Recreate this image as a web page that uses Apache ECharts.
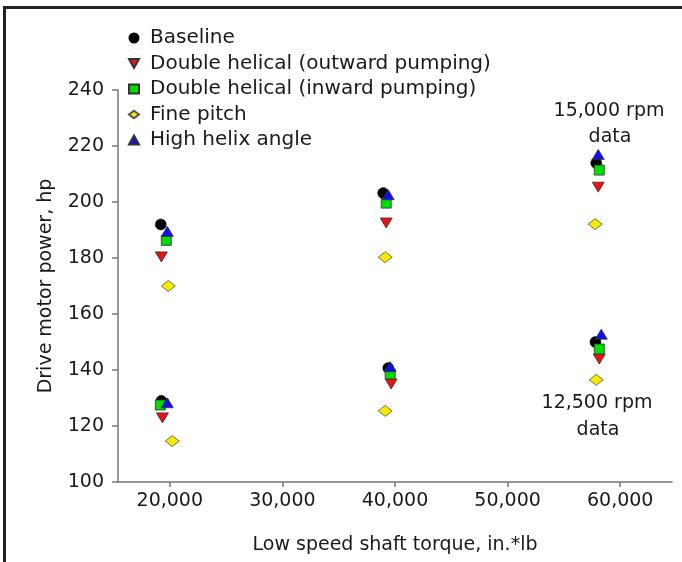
<!DOCTYPE html>
<html>
<head>
<meta charset="utf-8">
<script src="https://cdn.jsdelivr.net/npm/echarts@6/dist/echarts.min.js"></script>
<style>
html,body{margin:0;padding:0;background:#fff;}
#c{width:682px;height:562px;}
</style>
</head>
<body>
<div id="c"></div>
<script>
// ---- data (x = low speed shaft torque, y = drive motor power) ----
var seriesNames = ['Baseline', 'Double helical (outward pumping)', 'Double helical (inward pumping)', 'Fine pitch', 'High helix angle'];
var baseline = [[19200, 192.0], [38950, 203.2], [57870, 213.9], [19250, 129.0], [39400, 140.7], [57800, 150.0]];
var outward  = [[19250, 180.4], [39220, 192.5], [58050, 205.3], [19350, 122.9], [39660, 135.0], [58140, 143.9]];
var inward   = [[19690, 186.3], [39220, 199.6], [58140, 211.4], [19160, 127.5], [39570, 138.6], [58140, 147.5]];
var finePitch= [[19870, 170.0], [39130, 180.3], [57780, 192.1], [20220, 114.6], [39130, 125.4], [57870, 136.5]];
var highHelix= [[19780, 189.5], [39400, 202.6], [58050, 217.0], [19780, 128.3], [39570, 141.2], [58320, 152.8]];
var xTicks = [20000, 30000, 40000, 50000, 60000];
var yTicks = [100, 120, 140, 160, 180, 200, 220, 240];
var annotations = [['15,000 rpm', 'data'], ['12,500 rpm', 'data']];

var FONT = 'DejaVu Sans';
var TXT = '#1a1a1a';
var chart = echarts.init(document.getElementById('c'), null, {renderer: 'canvas'});

function fmt(v){ return String(v).replace(/\B(?=(\d{3})+(?!\d))/g, ','); }

var downTri = 'path://M0,0 L10,0 L5,9 Z';
var upTri = 'path://M5,0 L10,9 L0,9 Z';
var diamondIcon = 'path://M6,0 L12,4.5 L6,9 L0,4.5 Z';

var option = {
  backgroundColor: '#fff',
  animation: false,
  textStyle: {fontFamily: FONT},
  grid: {left: 118, right: 10, top: 90, bottom: 80, containLabel: false},
  legend: {
    orient: 'vertical',
    left: 123, top: 23,
    itemWidth: 10, itemHeight: 9,
    itemGap: 5.5,
    textStyle: {fontFamily: FONT, fontSize: 20, color: TXT, lineHeight: 20, padding: [0, 0, 0, 6]},
    data: [
      {name: seriesNames[0], icon: 'circle'},
      {name: seriesNames[1], icon: downTri},
      {name: seriesNames[2], icon: 'rect'},
      {name: seriesNames[3], icon: diamondIcon},
      {name: seriesNames[4], icon: upTri}
    ]
  },
  xAxis: {
    type: 'value',
    min: 15400, max: 64600,
    name: 'Low speed shaft torque, in.*lb',
    nameLocation: 'middle', nameGap: 54,
    nameTextStyle: {fontFamily: FONT, fontSize: 19, color: TXT},
    axisLine: {show: true, lineStyle: {color: '#777', width: 1.5}},
    axisTick: {show: true, length: 5, customValues: xTicks, lineStyle: {color: '#777', width: 1.5}},
    axisLabel: {customValues: xTicks, formatter: fmt, fontFamily: FONT, fontSize: 19, color: TXT, margin: 10},
    splitLine: {show: false}
  },
  yAxis: {
    type: 'value',
    min: 100, max: 240, interval: 20,
    name: 'Drive motor power, hp',
    nameLocation: 'middle', nameGap: 62,
    nameTextStyle: {fontFamily: FONT, fontSize: 19, color: TXT},
    axisLine: {show: true, onZero: false, lineStyle: {color: '#777', width: 1.5}},
    axisTick: {show: true, length: 6, lineStyle: {color: '#777', width: 1.5}},
    axisLabel: {fontFamily: FONT, fontSize: 19, color: TXT, margin: 14},
    splitLine: {show: false}
  },
  series: [
    {name: seriesNames[0], type: 'scatter', data: baseline, symbol: 'circle', symbolSize: 11,
     itemStyle: {color: '#000', borderColor: '#000', borderWidth: 0.5, opacity: 1}, z: 2},
    {name: seriesNames[1], type: 'scatter', data: outward, symbol: 'triangle', symbolRotate: 180, symbolSize: [12, 10],
     itemStyle: {color: '#ee1111', borderColor: '#333', borderWidth: 0.8, opacity: 1}, z: 3},
    {name: seriesNames[2], type: 'scatter', data: inward, symbol: 'rect', symbolSize: 10,
     itemStyle: {color: '#00dd00', borderColor: '#333', borderWidth: 0.8, opacity: 1}, z: 4},
    {name: seriesNames[3], type: 'scatter', data: finePitch, symbol: 'diamond', symbolSize: [14, 11],
     itemStyle: {color: '#f5ea00', borderColor: '#555', borderWidth: 0.8, opacity: 1}, z: 5},
    {name: seriesNames[4], type: 'scatter', data: highHelix, symbol: 'triangle', symbolSize: [12, 10],
     itemStyle: {color: '#1010ee', borderColor: '#333', borderWidth: 0.8, opacity: 1}, z: 6}
  ],
  graphic: [
    {type: 'rect', shape: {x: 4.5, y: 7.5, width: 720, height: 620}, silent: true,
     style: {fill: null, stroke: '#222', lineWidth: 3}, z: 100},
    {type: 'text', x: 609, y: 111, style: {text: annotations[0][0], fontFamily: FONT, fontSize: 19, fill: TXT, textAlign: 'center', textVerticalAlign: 'middle'}},
    {type: 'text', x: 610, y: 137, style: {text: annotations[0][1], fontFamily: FONT, fontSize: 19, fill: TXT, textAlign: 'center', textVerticalAlign: 'middle'}},
    {type: 'text', x: 597, y: 403, style: {text: annotations[1][0], fontFamily: FONT, fontSize: 19, fill: TXT, textAlign: 'center', textVerticalAlign: 'middle'}},
    {type: 'text', x: 598, y: 430, style: {text: annotations[1][1], fontFamily: FONT, fontSize: 19, fill: TXT, textAlign: 'center', textVerticalAlign: 'middle'}}
  ]
};
chart.setOption(option);
</script>
</body>
</html>
